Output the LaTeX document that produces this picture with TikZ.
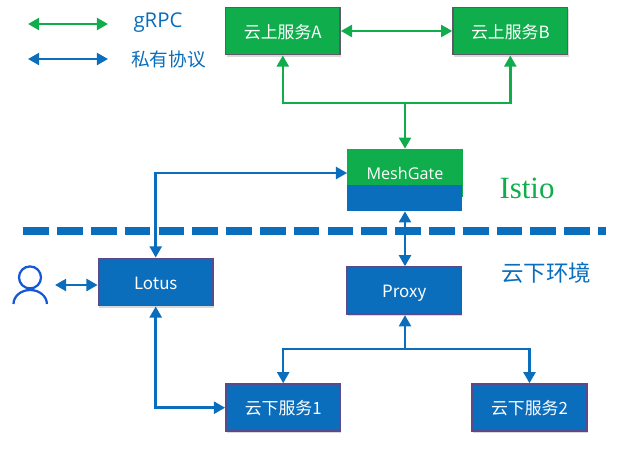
\documentclass[tikz,border=0pt]{standalone}
\usepackage{fontspec}
\usepackage{xcolor}
\setmainfont{Open Sans}
\newfontfamily\cjk{Noto Sans CJK SC}
\newfontfamily\istiofont{Liberation Serif}
\usetikzlibrary{arrows.meta,shadows}
\definecolor{meshgreen}{HTML}{10AD4D}
\definecolor{meshblue}{HTML}{0A6EBD}
\definecolor{usercolor}{HTML}{1458D6}
\definecolor{greenedge}{HTML}{5C5A66}
\definecolor{blueedge}{HTML}{5A4A8C}

\begin{document}
\begin{tikzpicture}[x=0.025cm,y=-0.025cm,>={Triangle[length=2.8mm,width=3mm]},
  svcgreen/.style={rectangle,draw=greenedge,line width=1.2pt,fill=meshgreen,text=white,minimum width=2.86cm,minimum height=1.18cm,inner sep=0pt,text height=11pt,text depth=1pt,font=\cjk\fontsize{12}{12}\selectfont,drop shadow={opacity=0.3,shadow xshift=0.7pt,shadow yshift=-1.4pt}},
  svcblue/.style={svcgreen,draw=blueedge,fill=meshblue},
  greenlink/.style={draw=meshgreen,line width=1.8pt},
  bluelink/.style={draw=meshblue,line width=1.8pt}]
  \useasboundingbox (0,0) rectangle (619,449);
  % legend
  \coordinate (gl) at (28,24);
  \coordinate (gr) at (108,24);
  \coordinate (bl) at (28,59);
  \coordinate (br) at (108,59);
  \draw[<->,greenlink] (gl) -- (gr);
  \draw[<->,bluelink] (bl) -- (br);
  \node[text=meshblue,inner sep=0pt,font=\fontsize{14.5}{15}\selectfont] (grpc) at (158,23) {gRPC};
  \node[text=meshblue,inner sep=0pt,font=\cjk\fontsize{13.3}{14}\selectfont] (private) at (168.5,59) {私有协议};
  % cloud side
  \node[svcgreen] (svca) at (282.8,31) {云上服务A};
  \node[svcgreen] (svcb) at (510.3,31) {云上服务B};
  \node[rectangle,fill=meshgreen,minimum width=2.88cm,minimum height=1.2cm,inner sep=0pt] (mesh) at (405,173) {};
  \node[rectangle,fill=meshblue,minimum width=2.88cm,minimum height=0.65cm,inner sep=0pt] (meshlow) at (404.4,198) {};
  \node[text=white,inner sep=0pt,text height=10pt,text depth=1pt,font=\fontsize{11.5}{12}\selectfont] (meshtext) at (405,173) {MeshGate};
  \node[text=meshgreen,inner sep=0pt,font=\istiofont\fontsize{22}{22}\selectfont] (istio) at (527,188.5) {Istio};
  % boundary
  \coordinate (cutl) at (23.3,231);
  \coordinate (cutr) at (606,231);
  \draw[draw=meshblue,line width=5.7pt,dash pattern=on 0.6425cm off 0.2025cm] (cutl) -- (cutr);
  % local side
  \node[text=meshblue,inner sep=0pt,font=\cjk\fontsize{16}{16}\selectfont] (local) at (546,273) {云下环境};
  \node[svcblue] (lotus) at (155.7,282) {Lotus};
  \node[svcblue] (proxy) at (404.2,290.7) {Proxy};
  \node[svcblue] (svc1) at (283.2,407.7) {云下服务1};
  \node[svcblue] (svc2) at (529.5,407.7) {云下服务2};
  % user icon
  \node[circle,draw=usercolor,line width=1.6pt,minimum size=0.55cm,inner sep=0pt] (head) at (30,277.4) {};
  \draw[draw=usercolor,line width=1.6pt] (13.5,304) arc[start angle=180,end angle=0,x radius=16.7,y radius=-14];
  \coordinate (userport) at (55,285);
  % links
  \coordinate (uptrunk) at (405,103);
  \coordinate (lowtrunk) at (405,349);
  \draw[<->,greenlink] (svca.east) -- (svcb.west);
  \draw[<->,greenlink] (svca.south) |- (uptrunk) -| (svcb.south);
  \draw[->,greenlink] (uptrunk) -- (mesh.north);
  \draw[<->,bluelink] (lotus.north) |- (mesh.west);
  \draw[<->,bluelink] (userport) -- (userport -| lotus.west);
  \draw[<->,bluelink] (lotus.south) |- (svc1.west);
  \draw[<->,bluelink] (meshlow.south -| lowtrunk) -- (proxy.north -| lowtrunk);
  \draw[->,bluelink] (lowtrunk) -- (proxy.south -| lowtrunk);
  \draw[<->,bluelink] (svc1.north) |- (lowtrunk) -| (svc2.north);
\end{tikzpicture}
\end{document}
